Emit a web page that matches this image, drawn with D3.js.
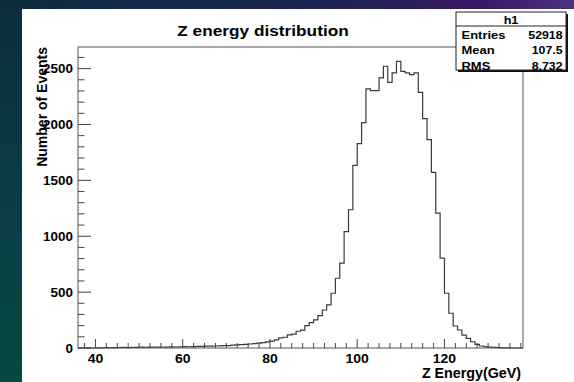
<!DOCTYPE html>
<html><head><meta charset="utf-8">
<script src="https://cdn.jsdelivr.net/npm/d3@7"></script>
<style>html,body{margin:0;padding:0;background:#0b3040;overflow:hidden}</style>
</head><body>
<script>
// ---- data ----
const binStart = 36;      // lower edge of first bin (GeV)
const binWidth = 1;       // GeV
const counts = [
  0,0,1,0,1,2,3,2,4,3,5,4,6,5,7,6,8,7,8,9,          // 36-55
  8,10,9,11,12,11,13,14,15,16,17,18,19,21,22,25,28,30,33,36, // 56-75
  40,44,48,54,62,72,90,96,118,125,150,160,200,227,251,290,340,385,490,624, // 76-95
  759,1042,1237,1634,1828,2016,2318,2303,2303,2417,2521,2377,2461,2565,2476,2461,2446,2461,2288,2052, // 96-115
  1864,1571,1207,804,490,311,197,161,116,87,56,33,18,12,8,5,3,2,1,0, // 116-135
  0,0 // 136-137
];
const xTickValues = [40, 60, 80, 100, 120];
const yTickValues = [0, 500, 1000, 1500, 2000, 2500];
const titleText = "Z energy distribution";
const xTitle = "Z Energy(GeV)";
const yTitle = "Number of Events";
const statsName = "h1";
const statsLabels = ["Entries", "Mean", "RMS"];
const statsValues = ["52918", "107.5", "8.732"];

// ---- layout ----
const W = 574, H = 382;
const F = {l: 78, r: 523, t: 47, b: 348};
const font = "'Liberation Sans', Arial, Helvetica, sans-serif";

const svg = d3.select("body").append("svg").attr("width", W).attr("height", H);
const defs = svg.append("defs");
const gl = defs.append("linearGradient").attr("id","gLeft").attr("x1",0).attr("y1",0).attr("x2",0).attr("y2",1);
gl.append("stop").attr("offset","0%").attr("stop-color","#0d2c3c");
gl.append("stop").attr("offset","50%").attr("stop-color","#0a3c48");
gl.append("stop").attr("offset","100%").attr("stop-color","#054840");
const gt = defs.append("linearGradient").attr("id","gTop").attr("x1",0).attr("y1",0).attr("x2",1).attr("y2",0);
gt.append("stop").attr("offset","0%").attr("stop-color","#0c2c3e");
gt.append("stop").attr("offset","55%").attr("stop-color","#1a2452");
gt.append("stop").attr("offset","85%").attr("stop-color","#3a1a66");
gt.append("stop").attr("offset","100%").attr("stop-color","#4a3480");

svg.append("rect").attr("x",0).attr("y",0).attr("width",W).attr("height",H).attr("fill","url(#gLeft)");
svg.append("rect").attr("x",0).attr("y",0).attr("width",W).attr("height",9).attr("fill","url(#gTop)");
svg.append("rect").attr("x",22).attr("y",9).attr("width",W-22).attr("height",H-9).attr("fill","#ffffff");

// scales
const xDomain = [binStart, binStart + counts.length * binWidth];
const x = d3.scaleLinear().domain(xDomain).range([F.l, F.r]);
const yMax = d3.max(counts) * 1.05;
const y = d3.scaleLinear().domain([0, yMax]).range([F.b, F.t]);

// histogram outline
const pts = [];
counts.forEach((c, i) => {
  const x0 = binStart + i * binWidth, x1 = x0 + binWidth;
  pts.push([x(x0), y(c)], [x(x1), y(c)]);
});
svg.append("path")
  .attr("d", d3.line()(pts))
  .attr("fill", "none").attr("stroke", "#3a3a3a").attr("stroke-width", 1.2);

// frame
svg.append("rect").attr("x",F.l).attr("y",F.t).attr("width",F.r-F.l).attr("height",F.b-F.t)
  .attr("fill","none").attr("stroke","#555").attr("stroke-width",1);

// x axis ticks (major 20, minor 2.5)
const xMinor = d3.range(37.5, 138, 2.5);
svg.append("g").selectAll("line").data(xMinor).join("line")
  .attr("x1", d => x(d)).attr("x2", d => x(d))
  .attr("y1", F.b).attr("y2", d => F.b - (xTickValues.includes(d) ? 9 : 5))
  .attr("stroke", "#444").attr("stroke-width", 1);
// y axis ticks (major 500, minor 100)
const yMinor = d3.range(0, yMax, 100);
svg.append("g").selectAll("line").data(yMinor).join("line")
  .attr("y1", d => y(d)).attr("y2", d => y(d))
  .attr("x1", F.l).attr("x2", d => F.l + (d % 500 === 0 ? 13 : 6.5))
  .attr("stroke", "#444").attr("stroke-width", 1);

function txt(str, px, py, size, sx, anchor) {
  return svg.append("text")
    .attr("transform", `translate(${px},${py}) scale(${sx},1)`)
    .attr("text-anchor", anchor)
    .attr("font-family", font).attr("font-weight", "bold")
    .attr("font-size", size).attr("fill", "#000").text(str);
}

// tick labels
xTickValues.forEach(v => txt(String(v), x(v), 362.5, 12.5, 1.12, "middle"));
yTickValues.forEach(v => txt(String(v), 73, y(v) + 4.5, 12, 1.12, "end"));

// titles
txt(titleText, 263, 36, 15, 1.15, "middle");
txt(xTitle, 521, 378, 14, 1.02, "end");
svg.append("text")
  .attr("transform", `translate(47,${F.t}) rotate(-90)`)
  .attr("text-anchor", "end")
  .attr("font-family", font).attr("font-weight", "bold")
  .attr("font-size", 14).attr("fill", "#000").text(yTitle);

// stats box
const B = {x: 456, y: 12, w: 110, h: 58};
svg.append("rect").attr("x", B.x + 2).attr("y", B.y + 2).attr("width", B.w).attr("height", B.h).attr("fill", "#111");
svg.append("rect").attr("x", B.x).attr("y", B.y).attr("width", B.w).attr("height", B.h)
  .attr("fill", "#fff").attr("stroke", "#222").attr("stroke-width", 1);
svg.append("line").attr("x1", B.x).attr("x2", B.x + B.w).attr("y1", 26).attr("y2", 26)
  .attr("stroke", "#222").attr("stroke-width", 1);
txt(statsName, B.x + B.w / 2, 23.5, 11, 1.15, "middle");
statsLabels.forEach((l, i) => {
  const by = 38.5 + i * 15.5;
  txt(l, 461.5, by, 11, 1.18, "start");
  txt(statsValues[i], 562.5, by, 11, 1.12, "end");
});
</script>
</body></html>
